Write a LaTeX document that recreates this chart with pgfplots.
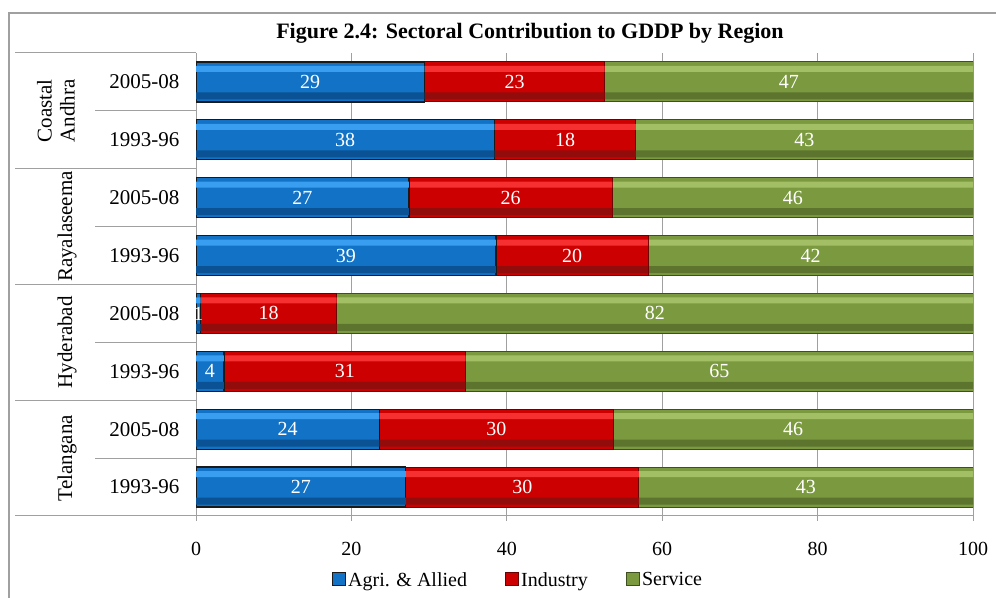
\documentclass[border=0pt]{standalone}
\usepackage{fontspec}
\setmainfont{Liberation Serif}
\usepackage{pgfplots}
\usepackage{pgfplotstable}
\pgfplotsset{compat=1.18}

\definecolor{agrilight}{HTML}{3A9EF0}
\definecolor{agrimain}{HTML}{1272C6}
\definecolor{agridark}{HTML}{0B5294}
\definecolor{agriedge}{HTML}{1A1A1A}
\definecolor{indlight}{HTML}{F63030}
\definecolor{indmain}{HTML}{CC0000}
\definecolor{inddark}{HTML}{920C0C}
\definecolor{indedge}{HTML}{6A0000}
\definecolor{servlight}{HTML}{A2BF66}
\definecolor{servmain}{HTML}{7B9A40}
\definecolor{servdark}{HTML}{5C742E}
\definecolor{servedge}{HTML}{3F5020}
\definecolor{framegray}{HTML}{A0A0A0}

% shares of GDDP (%), rows bottom to top
\pgfplotstableread{
idx agri ind serv
0 27.0 30.0 43.0
1 23.6 30.1 46.3
2 3.6 31.1 65.3
3 0.6 17.5 81.9
4 38.6 19.6 41.8
5 27.4 26.2 46.4
6 38.4 18.2 43.4
7 29.4 23.2 47.4
}\gddp

\begin{document}
\begin{tikzpicture}[x=1bp,y=1bp]
\path[use as bounding box] (0,0) rectangle (996,598);
% outer chart frame, only top and left edge fall inside the image
\draw[framegray, line width=1.5bp] (9,-5) -- (9,585) -- (1005,585);
\node[font=\bfseries\fontsize{22bp}{26bp}\selectfont] at (530,565)
  {Figure 2.4: Sectoral Contribution to GDDP by Region};

\begin{axis}[
    at={(196bp,82bp)}, anchor=south west,
    scale only axis, width=777bp, height=463bp,
    xmin=0, xmax=100, ymin=-0.5, ymax=7.5,
    xtick={0,20,...,100},
    ytick={0,...,7},
    yticklabels={1993-96,2005-08,1993-96,2005-08,1993-96,2005-08,1993-96,2005-08},
    axis lines*=left,
    axis line style={-, draw=framegray, line width=1bp},
    xmajorgrids, grid style={framegray, line width=1bp},
    tick align=outside, major tick length=5bp,
    xtick style={draw=framegray, line width=1bp},
    ytick style={draw=none},
    tick label style={font=\fontsize{20bp}{24bp}\selectfont},
    yticklabel style={font=\fontsize{21bp}{24bp}\selectfont, xshift=-8bp},
    xticklabel style={yshift=-18bp},
    /pgf/number format/assume math mode=true,
    legend style={at={(0.4144,-0.138)}, anchor=center, draw=none, fill=none,
        legend columns=-1, font=\fontsize{20bp}{24bp}\selectfont,
        /tikz/every even column/.append style={column sep=36bp}},
    legend image code/.code={\draw[#1] (0bp,-6bp) rectangle (13bp,7bp);},
    seg/.style={xbar, bar shift=0pt, bar width=40bp, forget plot},
    hi/.style={xbar, bar shift=13bp, bar width=6bp, draw=none, forget plot},
    lo/.style={xbar, bar shift=-14bp, bar width=7bp, draw=none, forget plot},
    lab/.style={draw=none, mark=none, forget plot, point meta=explicit,
        nodes near coords={\pgfmathprintnumber[fixed,precision=0]{\pgfplotspointmeta}},
        every node near coord/.append style={anchor=center, text=white,
            font=\fontsize{20bp}{24bp}\selectfont}},
]
% segments drawn as overlapping bars, widest (cumulative) first
\addplot[seg, fill=servmain, draw=servedge, line width=1bp]
  table[x expr=\thisrow{agri}+\thisrow{ind}+\thisrow{serv}, y=idx]{\gddp};
\addplot[hi, fill=servlight] table[x expr=\thisrow{agri}+\thisrow{ind}+\thisrow{serv}, y=idx]{\gddp};
\addplot[lo, fill=servdark] table[x expr=\thisrow{agri}+\thisrow{ind}+\thisrow{serv}, y=idx]{\gddp};

\addplot[seg, fill=indmain, draw=indedge, line width=1bp]
  table[x expr=\thisrow{agri}+\thisrow{ind}, y=idx]{\gddp};
\addplot[hi, fill=indlight] table[x expr=\thisrow{agri}+\thisrow{ind}, y=idx]{\gddp};
\addplot[lo, fill=inddark] table[x expr=\thisrow{agri}+\thisrow{ind}, y=idx]{\gddp};

\addplot[seg, fill=agrimain, draw=agriedge, line width=1.2bp]
  table[x=agri, y=idx]{\gddp};
\addplot[hi, fill=agrilight] table[x=agri, y=idx]{\gddp};
\addplot[lo, fill=agridark] table[x=agri, y=idx]{\gddp};

% value labels in the middle of each segment
\addplot[lab] table[x expr=\thisrow{agri}/2, y=idx, meta=agri]{\gddp};
\addplot[lab] table[x expr=\thisrow{agri}+\thisrow{ind}/2, y=idx, meta=ind]{\gddp};
\addplot[lab] table[x expr=\thisrow{agri}+\thisrow{ind}+\thisrow{serv}/2, y=idx, meta=serv]{\gddp};

\addlegendimage{fill=agrimain, draw=agriedge, line width=1.2bp}
\addlegendentry{Agri. \& Allied}
\addlegendimage{fill=indmain, draw=indedge, line width=1.2bp}
\addlegendentry{Industry}
\addlegendimage{fill=servmain, draw=servedge, line width=1.2bp}
\addlegendentry{Service}
\end{axis}

% category table on the left
\begin{scope}[framegray, line width=1bp]
  \foreach \yy in {545,429.25,313.5,197.75,82} \draw (15,\yy) -- (196,\yy);
  \foreach \yy in {487.1,371.4,255.6,139.9} \draw (95,\yy) -- (196,\yy);
\end{scope}
\begin{scope}[every node/.style={rotate=90, font=\fontsize{21bp}{23bp}\selectfont}]
  \node[align=center] at (56,487) {Coastal\\Andhra};
  \node at (67,371.4) {Rayalaseema};
  \node at (67,255.6) {Hyderabad};
  \node at (67,139.9) {Telangana};
\end{scope}
\end{tikzpicture}
\end{document}
